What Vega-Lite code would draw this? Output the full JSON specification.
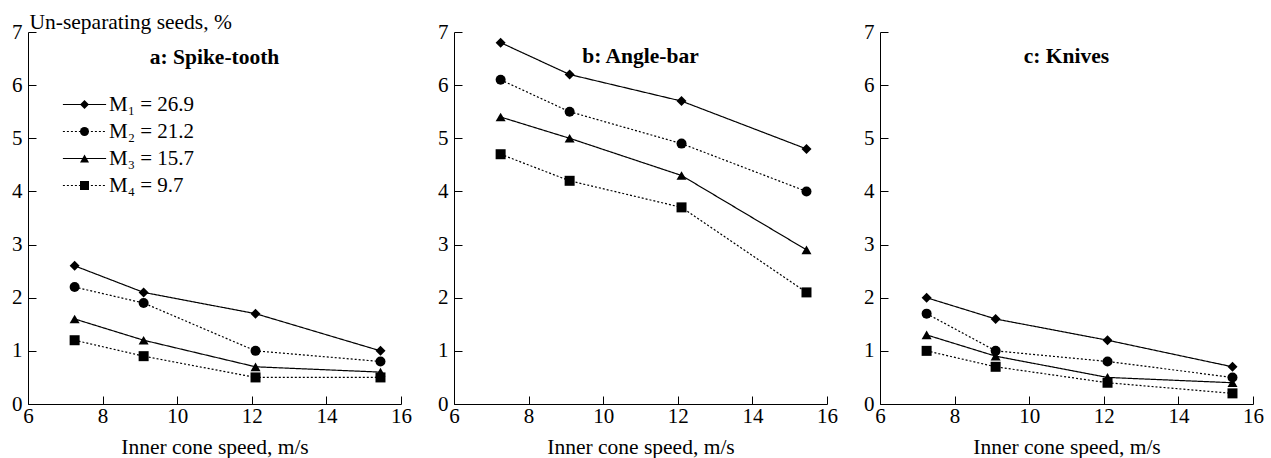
{
  "$schema": "https://vega.github.io/schema/vega-lite/v6.json",
  "background": "white",
  "padding": {"left": 11, "top": 11, "right": 5, "bottom": 2},
  "bounds": "flush",
  "spacing": 53,
  "config": {
    "view": {"stroke": null},
    "font": "Liberation Serif",
    "axis": {
      "domainColor": "black", "tickColor": "black", "labelColor": "black", "titleColor": "black",
      "labelFont": "Liberation Serif", "titleFont": "Liberation Serif",
      "labelFontSize": 21, "titleFontSize": 21.5, "titleFontWeight": "normal",
      "grid": false, "tickSize": -8, "labelFlush": false, "labelOverlap": false,
      "domainWidth": 1, "tickWidth": 1
    },
    "axisX": {"labelPadding": 9, "titlePadding": 10},
    "axisY": {"labelPadding": 14},
    "title": {"font": "Liberation Serif", "fontSize": 21.5, "fontWeight": "bold", "color": "black", "anchor": "middle", "baseline": "alphabetic"},
    "legend": {"labelFont": "Liberation Serif", "labelFontSize": 21, "labelColor": "black", "rowPadding": 5, "padding": 0}
  },
  "data": {"values": [
    {"panel": "a", "series": "M₁ = 26.9", "speed": 7.25, "value": 2.6},
    {"panel": "a", "series": "M₁ = 26.9", "speed": 9.1, "value": 2.1},
    {"panel": "a", "series": "M₁ = 26.9", "speed": 12.1, "value": 1.7},
    {"panel": "a", "series": "M₁ = 26.9", "speed": 15.45, "value": 1.0},
    {"panel": "a", "series": "M₂ = 21.2", "speed": 7.25, "value": 2.2},
    {"panel": "a", "series": "M₂ = 21.2", "speed": 9.1, "value": 1.9},
    {"panel": "a", "series": "M₂ = 21.2", "speed": 12.1, "value": 1.0},
    {"panel": "a", "series": "M₂ = 21.2", "speed": 15.45, "value": 0.8},
    {"panel": "a", "series": "M₃ = 15.7", "speed": 7.25, "value": 1.6},
    {"panel": "a", "series": "M₃ = 15.7", "speed": 9.1, "value": 1.2},
    {"panel": "a", "series": "M₃ = 15.7", "speed": 12.1, "value": 0.7},
    {"panel": "a", "series": "M₃ = 15.7", "speed": 15.45, "value": 0.6},
    {"panel": "a", "series": "M₄ = 9.7", "speed": 7.25, "value": 1.2},
    {"panel": "a", "series": "M₄ = 9.7", "speed": 9.1, "value": 0.9},
    {"panel": "a", "series": "M₄ = 9.7", "speed": 12.1, "value": 0.5},
    {"panel": "a", "series": "M₄ = 9.7", "speed": 15.45, "value": 0.5},
    {"panel": "b", "series": "M₁ = 26.9", "speed": 7.25, "value": 6.8},
    {"panel": "b", "series": "M₁ = 26.9", "speed": 9.1, "value": 6.2},
    {"panel": "b", "series": "M₁ = 26.9", "speed": 12.1, "value": 5.7},
    {"panel": "b", "series": "M₁ = 26.9", "speed": 15.45, "value": 4.8},
    {"panel": "b", "series": "M₂ = 21.2", "speed": 7.25, "value": 6.1},
    {"panel": "b", "series": "M₂ = 21.2", "speed": 9.1, "value": 5.5},
    {"panel": "b", "series": "M₂ = 21.2", "speed": 12.1, "value": 4.9},
    {"panel": "b", "series": "M₂ = 21.2", "speed": 15.45, "value": 4.0},
    {"panel": "b", "series": "M₃ = 15.7", "speed": 7.25, "value": 5.4},
    {"panel": "b", "series": "M₃ = 15.7", "speed": 9.1, "value": 5.0},
    {"panel": "b", "series": "M₃ = 15.7", "speed": 12.1, "value": 4.3},
    {"panel": "b", "series": "M₃ = 15.7", "speed": 15.45, "value": 2.9},
    {"panel": "b", "series": "M₄ = 9.7", "speed": 7.25, "value": 4.7},
    {"panel": "b", "series": "M₄ = 9.7", "speed": 9.1, "value": 4.2},
    {"panel": "b", "series": "M₄ = 9.7", "speed": 12.1, "value": 3.7},
    {"panel": "b", "series": "M₄ = 9.7", "speed": 15.45, "value": 2.1},
    {"panel": "c", "series": "M₁ = 26.9", "speed": 7.25, "value": 2.0},
    {"panel": "c", "series": "M₁ = 26.9", "speed": 9.1, "value": 1.6},
    {"panel": "c", "series": "M₁ = 26.9", "speed": 12.1, "value": 1.2},
    {"panel": "c", "series": "M₁ = 26.9", "speed": 15.45, "value": 0.7},
    {"panel": "c", "series": "M₂ = 21.2", "speed": 7.25, "value": 1.7},
    {"panel": "c", "series": "M₂ = 21.2", "speed": 9.1, "value": 1.0},
    {"panel": "c", "series": "M₂ = 21.2", "speed": 12.1, "value": 0.8},
    {"panel": "c", "series": "M₂ = 21.2", "speed": 15.45, "value": 0.5},
    {"panel": "c", "series": "M₃ = 15.7", "speed": 7.25, "value": 1.3},
    {"panel": "c", "series": "M₃ = 15.7", "speed": 9.1, "value": 0.9},
    {"panel": "c", "series": "M₃ = 15.7", "speed": 12.1, "value": 0.5},
    {"panel": "c", "series": "M₃ = 15.7", "speed": 15.45, "value": 0.4},
    {"panel": "c", "series": "M₄ = 9.7", "speed": 7.25, "value": 1.0},
    {"panel": "c", "series": "M₄ = 9.7", "speed": 9.1, "value": 0.7},
    {"panel": "c", "series": "M₄ = 9.7", "speed": 12.1, "value": 0.4},
    {"panel": "c", "series": "M₄ = 9.7", "speed": 15.45, "value": 0.2}
  ]},
  "resolve": {"scale": {"shape": "independent", "strokeDash": "independent"}},
  "hconcat": [
    {
      "width": 373, "height": 372,
      "title": {"text": "a: Spike-tooth", "offset": -57},
      "transform": [{"filter": {"field": "panel", "equal": "a"}}],
      "encoding": {
        "x": {"field": "speed", "type": "quantitative", "scale": {"domain": [6, 16]}, "axis": {"values": [6, 8, 10, 12, 14, 16], "title": "Inner cone speed, m/s"}},
        "y": {"field": "value", "type": "quantitative", "scale": {"domain": [0, 7]}, "axis": {"values": [0, 1, 2, 3, 4, 5, 6, 7], "title": "Un-separating seeds, %", "titleAngle": 0, "titleAlign": "left", "titleBaseline": "alphabetic", "titleX": 1, "titleY": -4}}
      },
      "layer": [
        {
          "mark": {"type": "line", "color": "black", "strokeWidth": 1.2},
          "encoding": {
            "strokeDash": {"field": "series", "type": "nominal", "scale": {"range": [[1, 0], [2, 2], [1, 0], [2, 2]]},
              "legend": {"orient": "none", "legendX": 28, "legendY": 62, "title": null, "symbolType": "M-4.8,0H4.8", "symbolSize": 81, "symbolOffset": 18, "symbolStrokeColor": "black", "symbolStrokeWidth": 1.2, "labelOffset": 14}}
          }
        },
        {
          "mark": {"type": "point", "filled": true, "color": "black", "opacity": 1, "size": 100},
          "encoding": {
            "shape": {"field": "series", "type": "nominal", "scale": {"domain": ["M₁ = 26.9", "M₂ = 21.2", "M₃ = 15.7", "M₄ = 9.7"], "range": ["diamond", "circle", "triangle-up", "square"]},
              "legend": {"orient": "none", "legendX": 28, "legendY": 62, "title": null, "symbolOffset": 18, "symbolSize": 81, "symbolFillColor": "black", "symbolStrokeWidth": 0, "labelExpr": "' '"}}
          }
        }
      ]
    },
    {
      "width": 373, "height": 372,
      "title": {"text": "b: Angle-bar", "offset": -46},
      "transform": [{"filter": {"field": "panel", "equal": "b"}}],
      "encoding": {
        "x": {"field": "speed", "type": "quantitative", "scale": {"domain": [6, 16]}, "axis": {"values": [6, 8, 10, 12, 14, 16], "title": "Inner cone speed, m/s"}},
        "y": {"field": "value", "type": "quantitative", "scale": {"domain": [0, 7]}, "axis": {"values": [0, 1, 2, 3, 4, 5, 6, 7], "title": null}}
      },
      "layer": [
        {
          "mark": {"type": "line", "color": "black", "strokeWidth": 1.2},
          "encoding": {
            "strokeDash": {"field": "series", "type": "nominal", "scale": {"range": [[1, 0], [2, 2], [1, 0], [2, 2]]}, "legend": null}
          }
        },
        {
          "mark": {"type": "point", "filled": true, "color": "black", "opacity": 1, "size": 100},
          "encoding": {
            "shape": {"field": "series", "type": "nominal", "scale": {"domain": ["M₁ = 26.9", "M₂ = 21.2", "M₃ = 15.7", "M₄ = 9.7"], "range": ["diamond", "circle", "triangle-up", "square"]}, "legend": null}
          }
        }
      ]
    },
    {
      "width": 373, "height": 372,
      "title": {"text": "c: Knives", "offset": -46},
      "transform": [{"filter": {"field": "panel", "equal": "c"}}],
      "encoding": {
        "x": {"field": "speed", "type": "quantitative", "scale": {"domain": [6, 16]}, "axis": {"values": [6, 8, 10, 12, 14, 16], "title": "Inner cone speed, m/s"}},
        "y": {"field": "value", "type": "quantitative", "scale": {"domain": [0, 7]}, "axis": {"values": [0, 1, 2, 3, 4, 5, 6, 7], "title": null}}
      },
      "layer": [
        {
          "mark": {"type": "line", "color": "black", "strokeWidth": 1.2},
          "encoding": {
            "strokeDash": {"field": "series", "type": "nominal", "scale": {"range": [[1, 0], [2, 2], [1, 0], [2, 2]]}, "legend": null}
          }
        },
        {
          "mark": {"type": "point", "filled": true, "color": "black", "opacity": 1, "size": 100},
          "encoding": {
            "shape": {"field": "series", "type": "nominal", "scale": {"domain": ["M₁ = 26.9", "M₂ = 21.2", "M₃ = 15.7", "M₄ = 9.7"], "range": ["diamond", "circle", "triangle-up", "square"]}, "legend": null}
          }
        }
      ]
    }
  ]
}
